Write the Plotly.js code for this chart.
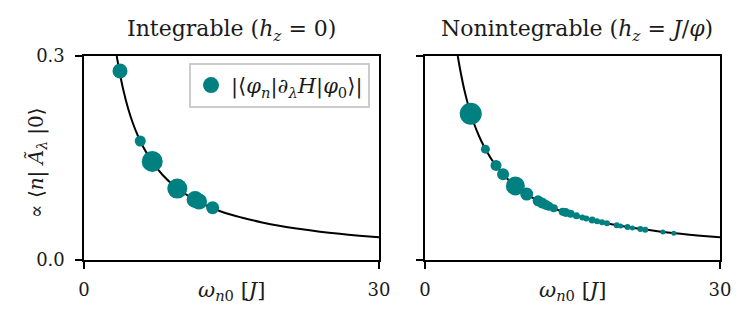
<!DOCTYPE html>
<html>
<head>
<meta charset="utf-8">
<script src="https://cdn.plot.ly/plotly-3.0.1.min.js"></script>
<style>
  body { margin: 0; background: #fff; }
  #myDiv { width: 752px; height: 322px; }
</style>
</head>
<body>
<div id="myDiv"></div>
<script>
var divId = "myDiv";

// reference curve
var curveX = [3.33, 3.6, 4, 4.5, 5, 5.5, 6, 7, 8, 9, 10, 11, 12, 14, 16, 18, 20, 22, 24, 26, 28, 30];
var curveY = [0.300, 0.278, 0.250, 0.222, 0.200, 0.182, 0.167, 0.143, 0.125, 0.111, 0.100, 0.091, 0.083, 0.071, 0.0625, 0.0556, 0.050, 0.0455, 0.0417, 0.0385, 0.0357, 0.0333];

// integrable points
var intX = [3.66, 5.72, 6.94, 9.49, 11.3, 11.7, 13.08];
var intY = [0.278, 0.175, 0.145, 0.105, 0.089, 0.086, 0.077];
var intS = [15, 11, 21, 20, 17, 16, 13];

// nonintegrable points
var nonX = [4.65, 6.14, 7.22, 7.94, 9.19, 10.34, 11.5, 11.9, 12.3, 12.6, 13.1, 14.0, 14.3, 14.8, 15.4, 16.0, 16.4, 17.0, 17.5, 18.0, 18.5, 19.5, 19.9, 20.6, 21.1, 21.9, 22.4, 24.2, 25.3];
var nonY = [0.215, 0.163, 0.139, 0.126, 0.109, 0.097, 0.087, 0.084, 0.081, 0.079, 0.076, 0.071, 0.070, 0.068, 0.065, 0.0625, 0.061, 0.059, 0.057, 0.0555, 0.054, 0.051, 0.050, 0.0485, 0.047, 0.0457, 0.0446, 0.0413, 0.0395];
var nonS = [22, 9, 11, 12, 19, 13, 11, 11, 10, 9, 8, 8, 9, 8, 7, 6, 6, 7, 6, 6, 6, 6, 5, 6, 5, 6, 6, 5, 5];

var xTicks = [0, 30];
var xTickText = ["0", "30"];
var yTicks = [0, 0.3];
var yTickText = ["0.0", "0.3"];

var teal = '#008080';
var serif = 'DejaVu Serif';
var ink = '#1a1a1a';

var data = [
  {
    x: curveX, y: curveY, xaxis: 'x', yaxis: 'y',
    mode: 'lines', line: {color: 'black', width: 2, shape: 'spline'},
    showlegend: false, hoverinfo: 'skip'
  },
  {
    x: curveX, y: curveY, xaxis: 'x2', yaxis: 'y2',
    mode: 'lines', line: {color: 'black', width: 2, shape: 'spline'},
    showlegend: false, hoverinfo: 'skip'
  },
  {
    x: intX, y: intY, xaxis: 'x', yaxis: 'y',
    mode: 'markers', name: '|⟨<i>φ<sub>n</sub></i>|∂<sub><i>λ</i></sub><i>H</i>|<i>φ</i><sub>0</sub>⟩|',
    marker: {color: teal, size: intS, opacity: 1, line: {width: 0}},
    showlegend: true
  },
  {
    x: nonX, y: nonY, xaxis: 'x2', yaxis: 'y2',
    mode: 'markers',
    marker: {color: teal, size: nonS, opacity: 1, line: {width: 0}},
    showlegend: false
  }
];

var axisCommon = {
  showgrid: false,
  zeroline: false,
  showline: true,
  mirror: true,
  linecolor: 'black',
  linewidth: 1.6,
  ticks: 'outside',
  ticklen: 7,
  tickwidth: 1.4,
  tickcolor: 'black',
  tickfont: {family: serif, size: 18, color: ink}
};

var layouts = {
  width: 752,
  height: 322,
  margin: {l: 84, r: 32, t: 56, b: 62},
  paper_bgcolor: 'white',
  plot_bgcolor: 'white',
  xaxis: Object.assign({}, axisCommon, {domain: [0, 0.4638], range: [0, 30], tickvals: xTicks, ticktext: xTickText, ticklabelstandoff: 6}),
  yaxis: Object.assign({}, axisCommon, {range: [0, 0.3], tickvals: yTicks, ticktext: yTickText, ticklabelstandoff: 7}),
  xaxis2: Object.assign({}, axisCommon, {domain: [0.5362, 1], range: [0, 30], tickvals: xTicks, ticktext: xTickText, ticklabelstandoff: 6, anchor: 'y2'}),
  yaxis2: Object.assign({}, axisCommon, {range: [0, 0.3], tickvals: yTicks, showticklabels: false, anchor: 'x2'}),
  showlegend: true,
  legend: {
    x: 0.4497, y: 0.966, xanchor: 'right', yanchor: 'top',
    bgcolor: 'rgba(255,255,255,0.8)',
    bordercolor: '#cccccc', borderwidth: 2,
    font: {family: serif, size: 21, color: ink},
    itemsizing: 'trace',
    itemwidth: 30
  },
  annotations: [
    {text: 'Integrable (<i>h<sub>z</sub></i> = 0)', xref: 'paper', yref: 'paper', x: 0.2319, y: 1.125, xanchor: 'center', yanchor: 'middle', showarrow: false, font: {family: serif, size: 22, color: ink}},
    {text: 'Nonintegrable (<i>h<sub>z</sub></i> = <i>J</i>/<i>φ</i>)', xref: 'paper', yref: 'paper', x: 0.7745, y: 1.125, xanchor: 'center', yanchor: 'middle', showarrow: false, font: {family: serif, size: 22, color: ink}},
    {text: '<i>ω</i><sub><i>n</i>0</sub> [<i>J</i>]', xref: 'paper', yref: 'paper', x: 0.2319, y: -0.15, xanchor: 'center', yanchor: 'middle', showarrow: false, font: {family: serif, size: 21, color: ink}},
    {text: '<i>ω</i><sub><i>n</i>0</sub> [<i>J</i>]', xref: 'paper', yref: 'paper', x: 0.7681, y: -0.15, xanchor: 'center', yanchor: 'middle', showarrow: false, font: {family: serif, size: 21, color: ink}},
    {text: '∝ ⟨<i>n</i>| <i>Ã<sub>λ</sub></i> |0⟩', xref: 'paper', yref: 'paper', x: -0.074, y: 0.48, xanchor: 'center', yanchor: 'middle', textangle: -90, showarrow: false, font: {family: serif, size: 20, color: ink}}
  ]
};

var display = {
  displayModeBar: false,
  staticPlot: true
};

Plotly.newPlot(divId, data, layouts, display);
</script>
</body>
</html>
